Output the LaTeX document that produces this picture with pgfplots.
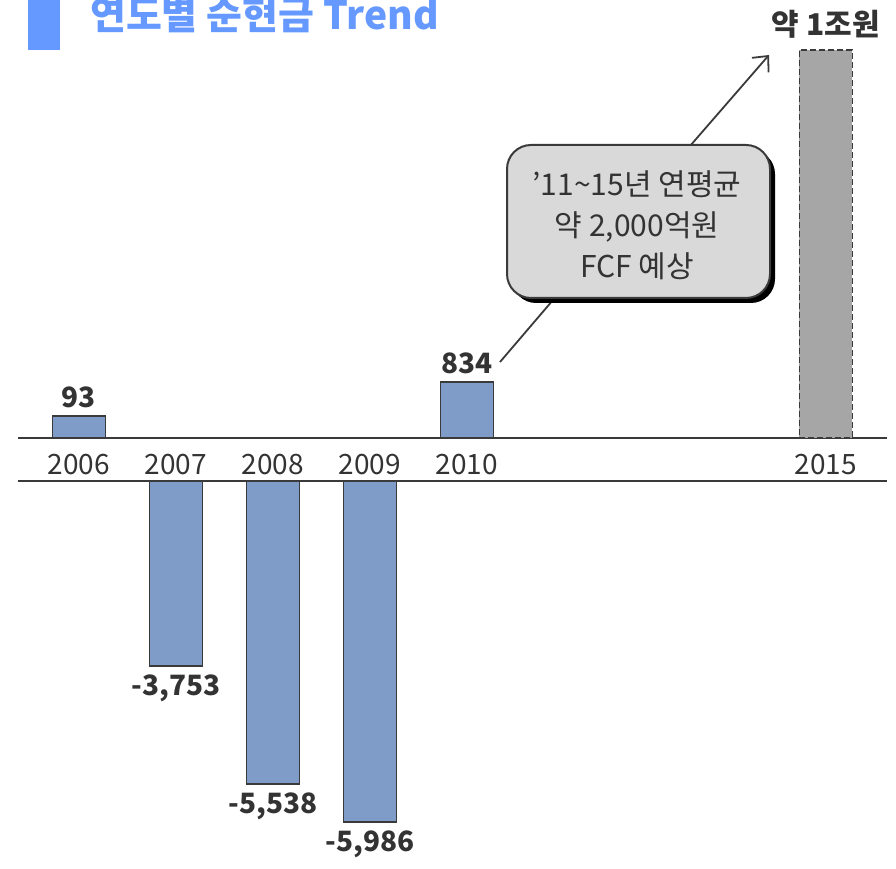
\documentclass[border=0pt]{standalone}
\usepackage{pgfplots}
\pgfplotsset{compat=1.18}
\usepackage{fontspec}
\setmainfont{Noto Sans CJK KR}
\usetikzlibrary{arrows.meta}
\definecolor{titleblue}{HTML}{6699FF}
\definecolor{barblue}{HTML}{7F9CC9}
\definecolor{edge}{HTML}{3A3A3A}
\definecolor{txt}{HTML}{333333}
\definecolor{bargray}{HTML}{A6A6A6}
\definecolor{boxgray}{HTML}{D9D9D9}
% x = year position, h = drawn bar height (chart is not to scale), label = value
\pgfplotstableread{
x h label
0 22 93
4 56 834
}\toppos
\pgfplotstableread{
x h label
1 -184.5 -3,753
2 -302.5 -5,538
3 -340.5 -5,986
}\botneg
\begin{document}
\begin{tikzpicture}[x=1pt,y=1pt]
\useasboundingbox (0,0) rectangle (896,868);
\clip (0,0) rectangle (896,868);
\fill[titleblue] (28,818) rectangle (60,870);
\node[anchor=base west, inner sep=0, font=\fontsize{39}{41}\selectfont\bfseries, text=titleblue] at (90,838) {연도별 순현금 Trend};

\pgfplotsset{chartbase/.style={
  x=97pt, y=1pt, xmin=-0.624, xmax=8.335, clip=false,
  axis y line=none, ytick=\empty,
  ybar, bar width=53pt, bar shift=0pt,
  axis line style={edge, line width=2pt},
  major tick length=0pt,
  nodes near coords={\pgfplotspointmeta},
  point meta=explicit symbolic,
}}

\begin{axis}[chartbase, at={(19,430)}, anchor=south west, ymin=0, ymax=400,
  axis x line*=bottom,
  xtick={0,1,2,3,4,7.7},
  xticklabels={2006,2007,2008,2009,2010,2015},
  xticklabel style={anchor=base, yshift=-36pt, font=\fontsize{28}{30}\selectfont, text=txt, inner sep=0pt},
  nodes near coords style={anchor=south, yshift=4pt, font=\fontsize{28}{30}\selectfont\bfseries, text=txt},
]
\addplot[fill=barblue, draw=edge, line width=1.5pt] table[x=x, y=h, meta=label] {\toppos};
\addplot[fill=bargray, draw=edge, line width=1.7pt, dash pattern=on 6pt off 3pt,
  nodes near coords style={anchor=south, yshift=3pt, font=\fontsize{30}{32}\selectfont\bfseries, text=txt}] coordinates {(7.7,388) [약 1조원]};
\end{axis}

\begin{axis}[chartbase, at={(19,386.5)}, anchor=north west, ymin=-350, ymax=0,
  axis x line*=top, xtick=\empty,
  nodes near coords style={anchor=north, yshift=-5pt, font=\fontsize{28}{30}\selectfont\bfseries, text=txt},
]
\addplot[fill=barblue, draw=edge, line width=1.5pt] table[x=x, y=h, meta=label] {\botneg};
\end{axis}

\draw[edge, line width=1.8pt] (500,506) -- (553,568);
\draw[edge, line width=1.8pt, -{Straight Barb[length=12pt,width=22pt]}] (690,722) -- (769,813);
\fill[black, rounded corners=24pt] (512,565) rectangle (775,718);
\draw[edge, line width=2pt, fill=boxgray, rounded corners=24pt] (507,570) rectangle (770,723);
\node[align=center, font=\fontsize{30}{41}\selectfont, text=txt] at (637,643) {’11\textasciitilde15년 연평균\\약 2,000억원\\FCF 예상};
\end{tikzpicture}
\end{document}
